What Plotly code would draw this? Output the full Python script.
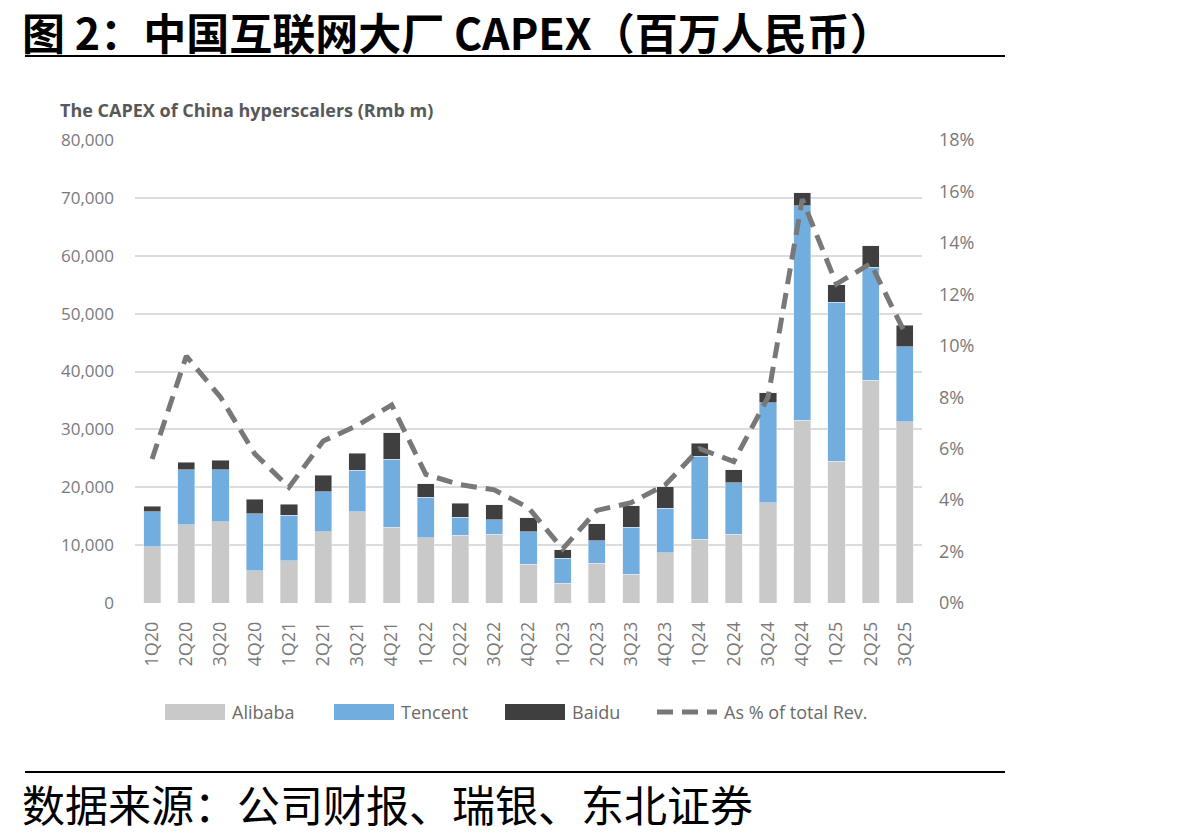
import plotly.graph_objects as go

quarters = ["1Q20","2Q20","3Q20","4Q20","1Q21","2Q21","3Q21","4Q21","1Q22","2Q22","3Q22","4Q22",
            "1Q23","2Q23","3Q23","4Q23","1Q24","2Q24","3Q24","4Q24","1Q25","2Q25","3Q25"]

alibaba = [9700, 13500, 14000, 5600, 7300, 12300, 15800, 13100, 11300, 11700, 11900, 6700,
           3400, 6900, 5000, 8700, 11000, 11900, 17300, 31600, 24500, 38500, 31300]
tencent = [6100, 9500, 9000, 9800, 7900, 6900, 7100, 11700, 7000, 3100, 2500, 5600,
           4300, 3900, 8100, 7700, 14400, 8900, 17300, 37000, 27500, 19500, 13000]
baidu = [900, 1300, 1700, 2500, 1900, 2900, 3000, 4600, 2300, 2400, 2600, 2400,
         1500, 2900, 3700, 3700, 2200, 2200, 1700, 2300, 3000, 3700, 3700]
pct_rev = [0.056, 0.096, 0.080, 0.058, 0.045, 0.063, 0.069, 0.077, 0.050, 0.046, 0.044, 0.037,
           0.021, 0.036, 0.039, 0.046, 0.060, 0.055, 0.080, 0.157, 0.124, 0.132, 0.105]

left_ticks = [0, 10000, 20000, 30000, 40000, 50000, 60000, 70000, 80000]
right_ticks = [0, 0.02, 0.04, 0.06, 0.08, 0.10, 0.12, 0.14, 0.16, 0.18]

c_ali = "#c9c9c9"
c_ten = "#71aedf"
c_bai = "#3f3f3f"
c_line = "#787878"
tick_font = dict(family="Open Sans", size=17, color="#7a7a7a")
line_dash = "16px,9px"

fig = go.Figure()
fig.add_bar(x=quarters, y=alibaba, name="Alibaba", marker_color=c_ali)
fig.add_bar(x=quarters, y=tencent, name="Tencent", marker_color=c_ten)
fig.add_bar(x=quarters, y=baidu, name="Baidu", marker_color=c_bai)
fig.add_scatter(x=quarters, y=pct_rev, name="As % of total Rev.", yaxis="y2", mode="lines",
                line=dict(color=c_line, width=5, dash=line_dash))

fig.update_layout(
    barmode="stack", bargap=0.5,
    width=1198, height=838,
    margin=dict(l=135, r=276, t=140, b=235),
    plot_bgcolor="white", paper_bgcolor="white",
    showlegend=False,
    xaxis=dict(tickangle=-90, tickfont=dict(family="Open Sans", size=18, color="#7a7a7a"),
               showgrid=False, showline=False, ticks="", ticklabelstandoff=14),
    yaxis=dict(range=[0, 80000], tickvals=left_ticks, tickformat=",d", tickfont=tick_font,
               gridcolor="#dcdcdc", gridwidth=2, zeroline=False, ticks="", ticklabelstandoff=20),
    yaxis2=dict(range=[0, 0.18], tickvals=right_ticks, tickformat=".0%", overlaying="y", side="right",
                tickfont=dict(family="Open Sans", size=18, color="#7a7a7a"),
                showgrid=False, zeroline=False, ticks="", ticklabelstandoff=16),
)

def px_x(p):
    return (p - 135) / 787

def px_y(p):
    return (603 - p) / 463

# Title and rules
fig.add_annotation(xref="paper", yref="paper", x=px_x(20), y=px_y(31), xanchor="left", yanchor="middle",
                   text="<b>图 2：中国互联网大厂 CAPEX（百万人民币）</b>", showarrow=False,
                   font=dict(family="Noto Sans CJK SC", size=43, color="black"))
fig.add_shape(type="line", xref="paper", yref="paper", x0=px_x(25), x1=px_x(1005),
              y0=px_y(56), y1=px_y(56), line=dict(color="black", width=2))
fig.add_annotation(xref="paper", yref="paper", x=px_x(58), y=px_y(110), xanchor="left", yanchor="middle",
                   text="<b>The CAPEX of China hyperscalers (Rmb m)</b>", showarrow=False,
                   font=dict(family="Open Sans", size=18, color="#585858"))
fig.add_shape(type="line", xref="paper", yref="paper", x0=px_x(25), x1=px_x(1005),
              y0=px_y(772), y1=px_y(772), line=dict(color="black", width=2))
fig.add_annotation(xref="paper", yref="paper", x=px_x(20), y=px_y(803), xanchor="left", yanchor="middle",
                   text="数据来源：公司财报、瑞银、东北证券", showarrow=False,
                   font=dict(family="Noto Sans CJK SC", size=43, color="black"))

# Custom legend
legend_items = [("Alibaba", c_ali, "rect", 165), ("Tencent", c_ten, "rect", 334),
                ("Baidu", c_bai, "rect", 505), ("As % of total Rev.", c_line, "dash", 657)]
ly = 712
for name, col, kind, px in legend_items:
    x0 = px_x(px)
    x1 = px_x(px + 60)
    if kind == "rect":
        fig.add_shape(type="rect", xref="paper", yref="paper", x0=x0, x1=x1,
                      y0=px_y(ly + 8), y1=px_y(ly - 8), fillcolor=col, line=dict(width=0))
    else:
        fig.add_shape(type="line", xref="paper", yref="paper", x0=x0, x1=x1, y0=px_y(ly), y1=px_y(ly),
                      line=dict(color=col, width=5, dash=line_dash))
    fig.add_annotation(xref="paper", yref="paper", x=px_x(px + 65), y=px_y(ly), xanchor="left", yanchor="middle",
                       text=name, showarrow=False, font=dict(family="Open Sans", size=18, color="#6a6a6a"))

fig.write_html("out.html")
